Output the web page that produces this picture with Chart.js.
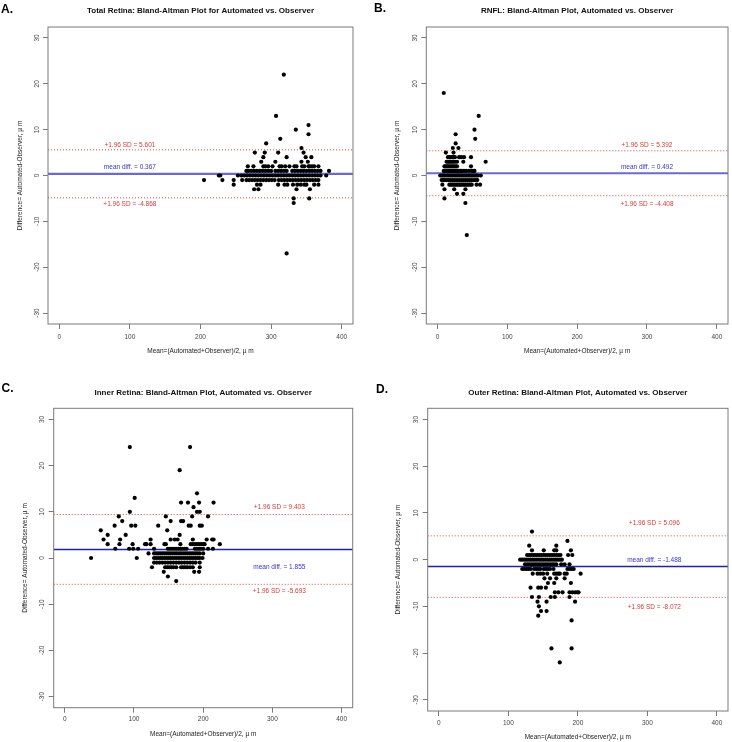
<!DOCTYPE html>
<html>
<head>
<meta charset="utf-8">
<script src="https://cdn.jsdelivr.net/npm/chart.js@4.4.0/dist/chart.umd.min.js"></script>
<style>
  html, body { margin: 0; padding: 0; background: #fff; }
  #wrap { position: relative; width: 732px; height: 742px; overflow: hidden; }
  #wrap canvas { position: absolute; }
</style>
</head>
<body>
<div id="wrap">
  <canvas id="pA" width="366" height="371" style="left:0;top:0"></canvas>
  <canvas id="pB" width="366" height="371" style="left:366px;top:0"></canvas>
  <canvas id="pC" width="366" height="371" style="left:0;top:371px"></canvas>
  <canvas id="pD" width="366" height="371" style="left:366px;top:371px"></canvas>
</div>
<script>
// axes
var xTicks = [0, 100, 200, 300, 400];
var yTicks = [-30, -20, -10, 0, 10, 20, 30];
var xRange = [-16, 416];
var yRange = [-32.4, 32.4];
var xAxisTitle = 'Mean=(Automated+Observer)/2, \u00b5 m';
var yAxisTitle = 'Difference= Automated-Observer, \u00b5 m';

var panelLetters = ['A.', 'B.', 'C.', 'D.'];
var panelTitles = [
  'Total Retina: Bland-Altman Plot for Automated vs. Observer',
  'RNFL: Bland-Altman Plot, Automated vs. Observer',
  'Inner Retina: Bland-Altman Plot, Automated vs. Observer',
  'Outer Retina: Bland-Altman Plot, Automated vs. Observer'
];
var meanDiff = [0.367, 0.492, 1.855, -1.488];
var upperLimit = [5.601, 5.392, 9.403, 5.096];
var lowerLimit = [-4.868, -4.408, -5.693, -8.072];

// rows: [difference, [means...]]
var totalRetina = [
  [22, [318]],
  [13, [307]],
  [11, [353]],
  [10, [335]],
  [9, [353]],
  [8, [313]],
  [7, [293]],
  [6, [343]],
  [5, [277, 291, 310, 346]],
  [4, [289, 322, 349, 357]],
  [3, [286, 306, 343, 352]],
  [2, [267, 275, 289, 292, 296, 302, 312, 315, 320, 326, 333, 336, 344, 347, 353, 355, 358, 361, 367]],
  [1, [265, 268, 272, 276, 280, 284, 288, 292, 296, 300, 306, 310, 314, 318, 322, 330, 334, 338, 342, 346, 350, 354, 358, 362, 366, 370, 382]],
  [0, [226, 228, 253, 258, 262, 266, 270, 274, 278, 282, 286, 290, 294, 298, 302, 306, 310, 314, 318, 322, 326, 330, 334, 338, 342, 346, 350, 354, 358, 362, 366, 370, 378]],
  [-1, [205, 231, 247, 259, 265, 269, 273, 277, 281, 285, 289, 293, 297, 301, 305, 311, 315, 319, 323, 327, 331, 335, 339, 343, 347, 351, 355, 359, 363, 367]],
  [-2, [247, 280, 285, 310, 319, 323, 331, 337, 342, 347, 350, 361, 367]],
  [-3, [276, 282, 336, 355]],
  [-5, [332, 354]],
  [-6, [332]],
  [-17, [322]]
];

var rnfl = [
  [18, [9]],
  [13, [59]],
  [10, [53]],
  [9, [26]],
  [8, [54]],
  [7, [26]],
  [6, [22, 30]],
  [5, [12, 23]],
  [4, [15, 17, 19, 21, 23, 25, 31, 34, 38, 48]],
  [3, [13, 15, 17, 19, 21, 23, 25, 28, 37, 69]],
  [2, [10, 12, 14, 16, 18, 20, 22, 24, 26, 28, 48]],
  [1, [9, 11, 13, 15, 17, 19, 21, 23, 25, 27, 29, 31, 33, 35, 38, 41, 45, 49, 51, 53]],
  [0, [4, 6, 8, 10, 12, 14, 16, 18, 20, 22, 24, 26, 28, 30, 32, 34, 36, 38, 40, 42, 44, 46, 48, 50, 52, 54, 56, 58, 62]],
  [-1, [6, 8, 10, 13, 16, 19, 22, 25, 28, 31, 34, 37, 40, 43, 46, 49, 52, 55, 57]],
  [-2, [7, 17, 19, 21, 23, 25, 27, 29, 31, 33, 35, 37, 39, 41, 43, 45, 47, 49, 56, 61]],
  [-3, [10, 24, 40]],
  [-4, [28, 37]],
  [-5, [10]],
  [-6, [40]],
  [-13, [42]]
];

var innerRetina = [
  [24, [94, 181]],
  [19, [166]],
  [14, [191]],
  [13, [101]],
  [12, [168, 178, 194, 215]],
  [11, [186]],
  [10, [94, 191, 195]],
  [9, [78, 146, 184, 207]],
  [8, [83, 153, 168, 171]],
  [7, [72, 96, 102, 135, 179, 182, 195, 198]],
  [6, [52, 148]],
  [5, [62, 88, 166]],
  [4, [56, 80, 124, 153, 159, 163, 185, 205, 213, 215]],
  [3, [62, 79, 98, 116, 118, 124, 144, 146, 167, 182, 185, 188, 191, 194, 197, 200, 202, 224]],
  [2, [73, 93, 99, 106, 129, 149, 152, 155, 158, 161, 164, 167, 170, 173, 176, 188, 191, 194, 197, 200, 207, 214]],
  [1, [121, 129, 132, 135, 138, 141, 144, 147, 150, 153, 156, 159, 162, 165, 168, 171, 174, 177, 180, 183, 186, 189, 192, 195, 200]],
  [0, [38, 104, 129, 132, 135, 138, 141, 144, 147, 150, 153, 156, 159, 162, 165, 168, 171, 174, 177, 180, 183, 186, 189, 192, 195, 199]],
  [-1, [129, 133, 137, 141, 145, 149, 153, 157, 161, 165, 169, 173, 177, 181, 185, 189, 195]],
  [-2, [126, 145, 148, 151, 154, 157, 161, 168, 171, 174, 177, 181, 185, 195]],
  [-3, [143, 187, 194]],
  [-4, [149]],
  [-5, [161]]
];

var outerRetina = [
  [6, [134]],
  [4, [185]],
  [3, [130, 169]],
  [2, [134, 151, 166, 169, 190]],
  [1, [127, 130, 133, 136, 139, 142, 145, 148, 151, 154, 157, 160, 163, 166, 169, 172, 175, 186, 192]],
  [0, [117, 120, 123, 126, 129, 132, 135, 138, 141, 144, 147, 150, 153, 156, 159, 162, 165, 168, 171, 174, 177]],
  [-1, [124, 127, 130, 133, 136, 139, 142, 145, 148, 151, 154, 157, 160, 163, 166, 169, 176, 181, 188]],
  [-2, [120, 123, 126, 129, 132, 137, 140, 143, 146, 151, 154, 157, 160, 165, 185, 188, 191, 194]],
  [-3, [135, 142, 146, 150, 156, 166, 169, 172, 174, 181, 184, 204]],
  [-4, [152, 160, 169, 181]],
  [-5, [157, 166, 190]],
  [-6, [132, 143, 147, 154]],
  [-7, [167, 172, 178, 188, 192, 196, 199, 201]],
  [-8, [134, 144, 161, 167, 188]],
  [-9, [142, 155, 196]],
  [-10, [144]],
  [-11, [147, 155]],
  [-12, [143]],
  [-13, [191]],
  [-19, [162, 191]],
  [-22, [174]]
];

var panelRows = [totalRetina, rnfl, innerRetina, outerRetina];

// layout of each panel (canvas coords)
var layouts = [
  { id: 'pA', box: [48, 27, 353, 324], yTitlePad: 16, xTitlePad: 15.4, yPad: 1, xPad: 4, letter: [1, 12.5], labelX: 100, labelY: [6.7, 1.8, -6.2], mean: ['#6b6bcc', 2.2] },
  { id: 'pB', box: [60.3, 27, 365.5, 324], yTitlePad: 27.8, xTitlePad: 15.4, yPad: 1.5, xPad: 4, letter: [8, 11.8], labelX: 300, labelY: [6.7, 1.8, -6.2], mean: ['#6b6bcc', 2.2] },
  { id: 'pC', box: [53.7, 37.3, 352.7, 336.7], yTitlePad: 21, xTitlePad: 3.8, yPad: 1.5, xPad: 3, letter: [1.5, 21], labelX: 310, labelY: [10.9, -2.1, -7.1], mean: ['#2323a8', 1.5] },
  { id: 'pD', box: [61.7, 37.3, 363.3, 340], yTitlePad: 28.4, xTitlePad: 0.6, yPad: 2, xPad: 3.8, letter: [10, 21.7], labelX: 310, labelY: [7.9, -0.1, -10.2], mean: ['#2323a8', 1.5] }
];

var FONT = '"Liberation Sans", Arial, Helvetica, sans-serif';
Chart.defaults.font.family = FONT;

var decorPlugin = {
  id: 'decor',
  afterDraw: function (chart, args, opts) {
    var ctx = chart.ctx;
    var a = chart.chartArea;
    var xs = chart.scales.x, ys = chart.scales.y;
    ctx.save();
    ctx.strokeStyle = '#7a7a7a';
    ctx.lineWidth = 1;
    ctx.strokeRect(a.left, a.top, a.right - a.left, a.bottom - a.top);

    ctx.fillStyle = '#111';
    ctx.font = 'bold 8px ' + FONT;
    ctx.textAlign = 'center';
    ctx.textBaseline = 'middle';
    ctx.fillText(opts.title, (a.left + a.right) / 2, a.top - 16);

    ctx.fillStyle = '#000';
    ctx.font = 'bold 12px ' + FONT;
    ctx.textAlign = 'left';
    ctx.textBaseline = 'alphabetic';
    ctx.fillText(opts.letter, opts.letterPos[0], opts.letterPos[1]);

    ctx.font = '6.5px ' + FONT;
    ctx.textAlign = 'center';
    ctx.textBaseline = 'middle';
    var lx = xs.getPixelForValue(opts.labelX);
    ctx.fillStyle = '#d23c3c';
    ctx.fillText('+1.96 SD = ' + opts.upper.toFixed(3), lx, ys.getPixelForValue(opts.labelY[0]));
    ctx.fillText('+1.96 SD = ' + opts.lower.toFixed(3), lx, ys.getPixelForValue(opts.labelY[2]));
    ctx.fillStyle = '#3434cc';
    ctx.fillText('mean diff. = ' + opts.mean.toFixed(3), lx, ys.getPixelForValue(opts.labelY[1]));
    ctx.restore();
  }
};

function hline(v, color, width, dash) {
  return {
    data: [{ x: xRange[0], y: v }, { x: xRange[1], y: v }],
    showLine: true,
    borderColor: color,
    borderWidth: width,
    borderDash: dash,
    pointRadius: 0,
    order: 2
  };
}

function makeChart(i) {
  var L = layouts[i];
  var canvas = document.getElementById(L.id);
  var W = canvas.width, H = canvas.height;
  var points = [];
  panelRows[i].forEach(function (row) {
    row[1].forEach(function (m) { points.push({ x: m, y: row[0] }); });
  });

  var tickFont = { size: 6.5, family: FONT };

  new Chart(canvas, {
    type: 'scatter',
    data: {
      datasets: [
        {
          data: points,
          pointRadius: 2.1,
          pointBackgroundColor: '#000',
          pointBorderWidth: 0,
          order: 0
        },
        hline(upperLimit[i], '#d84444', 1, [1, 2]),
        hline(lowerLimit[i], '#d84444', 1, [1, 2]),
        hline(meanDiff[i], L.mean[0], L.mean[1], [])
      ]
    },
    options: {
      responsive: false,
      animation: false,
      events: [],
      layout: { padding: { top: L.box[1], right: W - L.box[2], bottom: 0, left: 0 } },
      plugins: {
        legend: { display: false },
        tooltip: { enabled: false },
        decor: {
          title: panelTitles[i],
          letter: panelLetters[i],
          letterPos: L.letter,
          labelX: L.labelX,
          labelY: L.labelY,
          upper: upperLimit[i],
          lower: lowerLimit[i],
          mean: meanDiff[i]
        }
      },
      scales: {
        x: {
          type: 'linear',
          min: xRange[0],
          max: xRange[1],
          afterBuildTicks: function (s) { s.ticks = xTicks.map(function (v) { return { value: v }; }); },
          afterFit: function (s) { s.height = H - L.box[3]; },
          grid: { display: true, drawOnChartArea: false, drawTicks: true, tickLength: 5, color: '#7a7a7a' },
          border: { display: false },
          ticks: { font: tickFont, color: '#444', padding: L.xPad, autoSkip: false, maxRotation: 0 },
          title: { display: true, text: xAxisTitle, font: tickFont, color: '#222', padding: { top: 0, bottom: L.xTitlePad } }
        },
        y: {
          type: 'linear',
          min: yRange[0],
          max: yRange[1],
          afterBuildTicks: function (s) { s.ticks = yTicks.map(function (v) { return { value: v }; }); },
          afterFit: function (s) { s.width = L.box[0]; },
          grid: { display: true, drawOnChartArea: false, drawTicks: true, tickLength: 5, color: '#7a7a7a' },
          border: { display: false },
          ticks: { font: tickFont, color: '#444', padding: L.yPad, autoSkip: false, minRotation: 90, maxRotation: 90, crossAlign: 'center' },
          title: { display: true, text: yAxisTitle, font: tickFont, color: '#222', padding: { top: L.yTitlePad, bottom: 0 } }
        }
      }
    },
    plugins: [decorPlugin]
  });
}

for (var i = 0; i < layouts.length; i++) makeChart(i);
</script>
</body>
</html>
